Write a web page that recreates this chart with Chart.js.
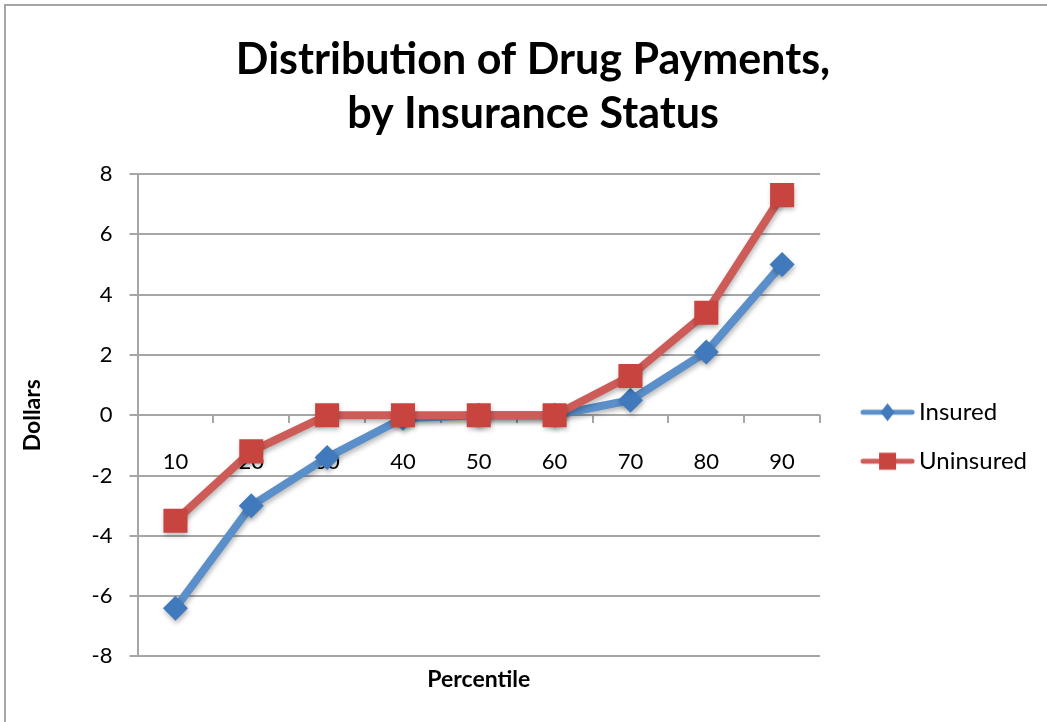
<!DOCTYPE html>
<html>
<head>
<meta charset="utf-8">
<title>Distribution of Drug Payments, by Insurance Status</title>
<script src="https://cdn.jsdelivr.net/npm/chart.js@4.4.1/dist/chart.umd.min.js"></script>
<style>
  html, body { margin: 0; padding: 0; background: #fff; overflow: hidden; }
  #wrap { position: relative; width: 1047px; height: 722px; }
  #frame { position: absolute; left: 4px; top: 4px; width: 1200px; height: 900px; border: 2px solid #a6a6a6; }
  #chart { position: absolute; left: 0; top: 0; }
</style>
</head>
<body>
<div id="wrap">
  <div id="frame"></div>
  <canvas id="chart" width="1047" height="722"></canvas>
</div>
<script>
// ========== DATA ==========
const percentiles = ['10', '20', '30', '40', '50', '60', '70', '80', '90'];
const insured = [-6.4, -3.0, -1.4, -0.1, 0, 0, 0.5, 2.1, 5.0];
const uninsured = [-3.5, -1.2, 0, 0, 0, 0, 1.3, 3.4, 7.3];
const yMin = -8;
const yMax = 8;
const yStep = 2;

// ========== STYLE ==========
const BLUE_LINE = '#5a8fca';
const BLUE_MARK = '#4179bd';
const RED_LINE = '#cd5c58';
const RED_MARK = '#c8443f';
const GRID = '#a6a6a6';
const FONT = 'Lato';

Chart.defaults.font.family = FONT;
Chart.defaults.color = '#000';

// legend swatch: short line with the marker in the middle.
// the canvas is centred on the legend box, the visible part sits right of centre
function legendSwatch(lineColor, markColor, shape) {
  const c = document.createElement('canvas');
  c.width = 82;
  c.height = 26;
  const g = c.getContext('2d');
  const x0 = 28, x1 = 77, mx = 52.5, my = 13;
  g.strokeStyle = lineColor;
  g.lineWidth = 5;
  g.lineCap = 'round';
  g.beginPath();
  g.moveTo(x0, my);
  g.lineTo(x1, my);
  g.stroke();
  g.fillStyle = markColor;
  g.beginPath();
  if (shape === 'diamond') {
    g.moveTo(mx, my - 9); g.lineTo(mx + 7, my); g.lineTo(mx, my + 9); g.lineTo(mx - 7, my);
  } else {
    g.rect(mx - 8.5, my - 8.5, 17, 17);
  }
  g.closePath();
  g.fill();
  return c;
}

const swatches = [
  legendSwatch(BLUE_LINE, BLUE_MARK, 'diamond'),
  legendSwatch(RED_LINE, RED_MARK, 'square')
];

// soft drop shadow under lines and markers
const shadowPlugin = {
  id: 'shadow',
  beforeDatasetsDraw(chart) {
    const ctx = chart.ctx;
    ctx.save();
    ctx.shadowColor = 'rgba(0,0,0,0.28)';
    ctx.shadowBlur = 5;
    ctx.shadowOffsetX = 1;
    ctx.shadowOffsetY = 3;
  },
  afterDatasetsDraw(chart) {
    chart.ctx.restore();
  }
};

new Chart(document.getElementById('chart'), {
  type: 'line',
  data: {
    labels: percentiles,
    datasets: [
      {
        label: 'Insured',
        data: insured,
        borderColor: BLUE_LINE,
        backgroundColor: BLUE_MARK,
        pointBackgroundColor: BLUE_MARK,
        pointBorderWidth: 0,
        pointStyle: 'rectRot',
        pointRadius: 12.5,
        borderWidth: 8,
        tension: 0,
        order: 1
      },
      {
        label: 'Uninsured',
        data: uninsured,
        borderColor: RED_LINE,
        backgroundColor: RED_MARK,
        pointBackgroundColor: RED_MARK,
        pointBorderWidth: 0,
        pointStyle: 'rect',
        pointRadius: 17,
        borderWidth: 8,
        tension: 0,
        order: 0
      }
    ]
  },
  options: {
    responsive: false,
    animation: false,
    layout: { padding: { left: 29, right: 10, top: 0, bottom: 0 } },
    plugins: {
      tooltip: { enabled: false },
      title: {
        display: true,
        text: ['Distribution of Drug Payments,', 'by Insurance Status'],
        font: { family: FONT, size: 43, weight: 'bold', lineHeight: 1.256 },
        color: '#000',
        padding: { top: 33, bottom: 33 }
      },
      subtitle: {
        display: true,
        position: 'bottom',
        fullSize: false,
        text: 'Percentile',
        font: { family: FONT, size: 23, weight: 'bold', lineHeight: 1.2 },
        color: '#000',
        padding: { top: 9, bottom: 29 }
      },
      legend: {
        position: 'right',
        fullSize: false,
        title: {
          display: true,
          text: ' ',
          font: { family: FONT, size: 12, lineHeight: 1 },
          padding: { top: 0, bottom: 31 }
        },
        labels: {
          usePointStyle: true,
          pointStyleWidth: 62,
          font: { family: FONT, size: 24 },
          color: '#000',
          padding: 25,
          sort: (a, b) => a.datasetIndex - b.datasetIndex,
          generateLabels(chart) {
            const items = Chart.defaults.plugins.legend.labels.generateLabels(chart);
            items.forEach(it => { it.pointStyle = swatches[it.datasetIndex]; });
            return items;
          }
        }
      }
    },
    scales: {
      y: {
        min: yMin,
        max: yMax,
        ticks: {
          stepSize: yStep,
          font: { family: FONT, size: 22 },
          color: '#000',
          padding: 17
        },
        grid: { color: GRID, lineWidth: 2, tickLength: 8 },
        border: { color: GRID, width: 2 },
        title: {
          display: true,
          text: 'Dollars',
          font: { family: FONT, size: 23, weight: 'bold', lineHeight: 1.2 },
          color: '#000',
          padding: { top: -10, bottom: 28 }
        }
      },
      x: {
        type: 'category',
        position: { y: 0 },
        offset: true,
        ticks: { display: false },
        grid: { offset: true, drawOnChartArea: false, drawTicks: true, tickLength: 8, color: GRID, lineWidth: 2 },
        border: { display: false }
      },
      xl: {
        type: 'category',
        position: { y: 0 },
        offset: true,
        z: 1,
        ticks: { font: { family: FONT, size: 22 }, color: '#000', padding: 33 },
        grid: { display: false, drawTicks: false },
        border: { display: false }
      }
    }
  },
  plugins: [shadowPlugin]
});
</script>
</body>
</html>
